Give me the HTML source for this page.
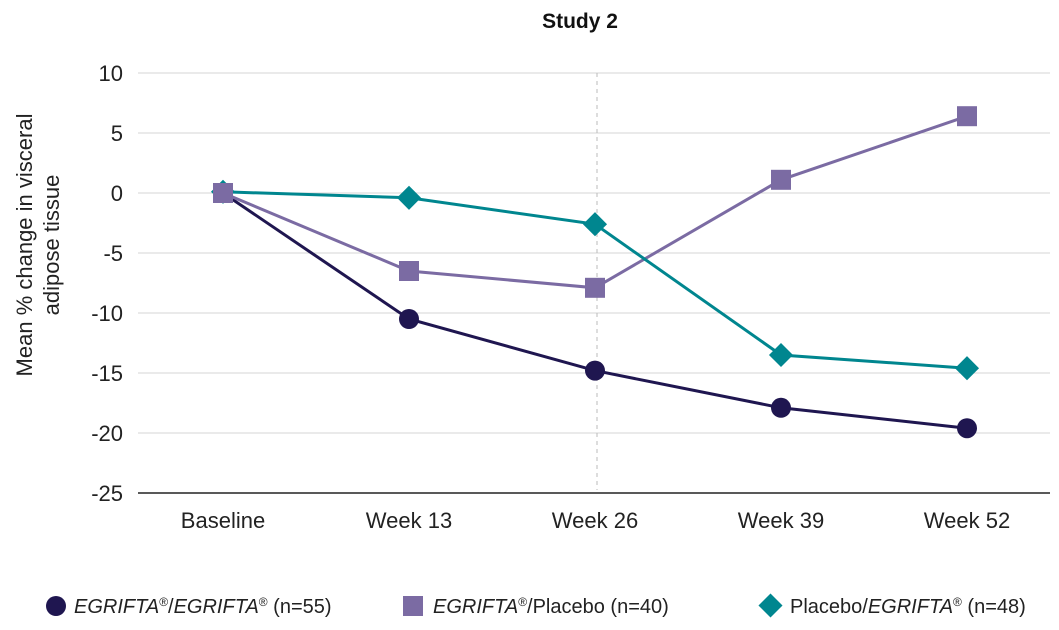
<!DOCTYPE html>
<html><head><meta charset="utf-8"><style>
body{margin:0;background:#fff;}
svg{display:block;font-family:"Liberation Sans",sans-serif;}
</style></head><body>
<svg id="chart" width="1059" height="630">
<text x="580" y="28" text-anchor="middle" font-size="21" font-weight="bold" fill="#111">Study 2</text>
<g id="grid"></g>
<g id="yticks"></g>
<g id="xticks"></g>
<text transform="translate(32,245) rotate(-90)" text-anchor="middle" font-size="22" fill="#222"><tspan x="0" dy="0">Mean % change in visceral</tspan><tspan x="0" dy="27">adipose tissue</tspan></text>
<g id="series"></g>
<g id="legend" font-size="20" fill="#222">
<g><circle cx="56" cy="606" r="10" fill="#1f1650"/><text x="74" y="613"><tspan font-style="italic">EGRIFTA</tspan><tspan font-size="12" dy="-7">®</tspan><tspan dy="7">/</tspan><tspan font-style="italic">EGRIFTA</tspan><tspan font-size="12" dy="-7">®</tspan><tspan dy="7"> (n=55)</tspan></text></g>
<g><rect x="403" y="596" width="20" height="20" fill="#7b6ba3"/><text x="433" y="613"><tspan font-style="italic">EGRIFTA</tspan><tspan font-size="12" dy="-7">®</tspan><tspan dy="7">/Placebo (n=40)</tspan></text></g>
<g><rect x="762" y="597" width="17" height="17" fill="#00868f" transform="rotate(45 770.5 605.5)"/><text x="790" y="613">Placebo/<tspan font-style="italic">EGRIFTA</tspan><tspan font-size="12" dy="-7">®</tspan><tspan dy="7"> (n=48)</tspan></text></g>
</g>
</svg>
<script>
const categories=["Baseline","Week 13","Week 26","Week 39","Week 52"];
const yTicks=[10,5,0,-5,-10,-15,-20,-25];
const egriftaEgrifta=[0,-10.5,-14.8,-17.9,-19.6];
const egriftaPlacebo=[0,-6.5,-7.9,1.1,6.4];
const placeboEgrifta=[0.1,-0.4,-2.6,-13.5,-14.6];
const NS="http://www.w3.org/2000/svg";
const x=i=>223+i*186;
const y=v=>193-v*12;
function mk(tag,attrs,parent){const e=document.createElementNS(NS,tag);for(const k in attrs)e.setAttribute(k,attrs[k]);parent.appendChild(e);return e;}
const grid=document.getElementById('grid'),yt=document.getElementById('yticks'),xt=document.getElementById('xticks'),ser=document.getElementById('series');
yTicks.forEach(t=>{
 const l=mk('line',{x1:138,x2:1050,y1:y(t),y2:y(t),stroke:t===-25?'#222':'#d4d4d4','stroke-width':t===-25?1.5:1},grid);
 
 
 const tx=mk('text',{x:123,y:y(t)+8,'text-anchor':'end','font-size':22,fill:'#222'},yt);tx.textContent=t;
 
 
});
const vl=mk('line',{x1:x(2)+2,x2:x(2)+2,y1:73,y2:490,stroke:'#bbb','stroke-dasharray':'4,4'},grid);


categories.forEach((c,i)=>{const t=mk('text',{x:x(i),y:528,'text-anchor':'middle','font-size':22,fill:'#222'},xt);t.textContent=c;
 
 });
function line(data,color,name){
 const p=mk('polyline',{points:data.map((v,i)=>x(i)+','+y(v)).join(' '),fill:'none',stroke:color,'stroke-width':3},ser);
 
 
}
line(egriftaEgrifta,'#1f1650','egrifta-egrifta');
line(egriftaPlacebo,'#7b6ba3','egrifta-placebo');
line(placeboEgrifta,'#00868f','placebo-egrifta');
egriftaEgrifta.forEach((v,i)=>{const c=mk('circle',{cx:x(i),cy:y(v),r:10,fill:'#1f1650'},ser);
 
 });
placeboEgrifta.forEach((v,i)=>{const r=mk('rect',{x:x(i)-8.5,y:y(v)-8.5,width:17,height:17,fill:'#00868f',transform:'rotate(45 '+x(i)+' '+y(v)+')'},ser);
 
 });
egriftaPlacebo.forEach((v,i)=>{const r=mk('rect',{x:x(i)-10,y:y(v)-10,width:20,height:20,fill:'#7b6ba3'},ser);
 
 });
</script>
</body></html>
